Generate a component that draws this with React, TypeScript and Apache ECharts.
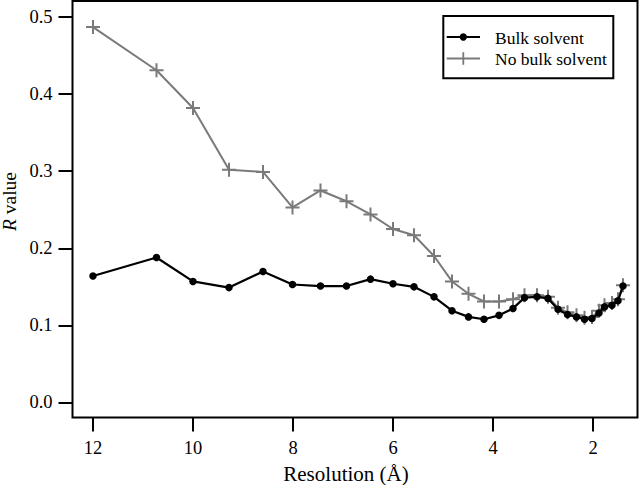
import React, { useEffect, useRef } from "react";
import * as echarts from "echarts";

const resolution = [12.0, 10.73, 10.0, 9.28, 8.6, 8.01, 7.45, 6.93, 6.45, 6.0, 5.58, 5.18, 4.82, 4.49, 4.18, 3.88, 3.6, 3.37, 3.12, 2.9, 2.7, 2.51, 2.33, 2.17, 2.02, 1.88, 1.77, 1.62, 1.5, 1.4];
const bulkSolvent = [0.164, 0.188, 0.157, 0.149, 0.17, 0.153, 0.151, 0.151, 0.16, 0.154, 0.15, 0.137, 0.119, 0.111, 0.108, 0.113, 0.122, 0.136, 0.137, 0.135, 0.121, 0.114, 0.111, 0.108, 0.109, 0.116, 0.124, 0.126, 0.132, 0.151];
const noBulkSolvent = [0.487, 0.431, 0.382, 0.302, 0.299, 0.253, 0.275, 0.261, 0.244, 0.225, 0.217, 0.19, 0.157, 0.141, 0.131, 0.131, 0.134, 0.139, 0.139, 0.137, 0.123, 0.117, 0.113, 0.11, 0.111, 0.119, 0.126, 0.129, 0.134, 0.152];
const xTicks = [12, 10, 8, 6, 4, 2];
const yTicks = [0, 0.1, 0.2, 0.3, 0.4, 0.5];
const seriesNames = ["Bulk solvent", "No bulk solvent"];
const xTitle = "Resolution (Å)";

const FONT = "'Liberation Serif', 'Times New Roman', serif";
const GRAY = "#7a7a7a";
const PLUS = "path://M0,7L14,7M7,0L7,14";

export default function App() {
  const ref = useRef<HTMLDivElement>(null);
  useEffect(() => {
    if (!ref.current) return;
    const chart = echarts.init(ref.current, null, { renderer: "svg" });
    const zip = (ys: number[]) => resolution.map((x, i) => [x, ys[i]]);
    chart.setOption({
      animation: false,
      backgroundColor: "#fff",
      grid: {
        left: 72.5,
        right: 2.5,
        top: 1,
        bottom: 67.5,
        show: true,
        borderColor: "#000",
        borderWidth: 2,
        backgroundColor: "transparent",
      },
      xAxis: {
        type: "value",
        inverse: true,
        min: 1.11,
        max: 12.41,
        axisLine: { show: false, onZero: false },
        splitLine: { show: false },
        axisTick: {
          show: true,
          inside: false,
          length: 14,
          lineStyle: { color: "#000", width: 2 },
          customValues: xTicks,
        },
        axisLabel: {
          customValues: xTicks,
          margin: 21,
          color: "#000",
          fontFamily: FONT,
          fontSize: 18.5,
          formatter: (v: number) => String(v),
        },
      },
      yAxis: {
        type: "value",
        min: -0.0195,
        max: 0.5208,
        axisLine: { show: false, onZero: false },
        splitLine: { show: false },
        axisTick: {
          show: true,
          inside: false,
          length: 14,
          lineStyle: { color: "#000", width: 2 },
          customValues: yTicks,
        },
        axisLabel: {
          customValues: yTicks,
          margin: 20,
          color: "#000",
          fontFamily: FONT,
          fontSize: 18.5,
          formatter: (v: number) => v.toFixed(1),
        },
      },
      series: [
        {
          name: seriesNames[1],
          type: "line",
          data: zip(noBulkSolvent),
          symbol: PLUS,
          symbolSize: 14,
          showAllSymbol: true,
          lineStyle: { color: GRAY, width: 2 },
          itemStyle: { color: GRAY, borderColor: GRAY, borderWidth: 2 },
          z: 2,
        },
        {
          name: seriesNames[0],
          type: "line",
          data: zip(bulkSolvent),
          symbol: "circle",
          symbolSize: 7.5,
          showAllSymbol: true,
          lineStyle: { color: "#000", width: 2.2 },
          itemStyle: { color: "#000", borderWidth: 0 },
          z: 3,
        },
      ],
      graphic: [
        {
          type: "text",
          x: 346,
          y: 473.5,
          style: {
            text: xTitle,
            fontFamily: FONT,
            fontSize: 21,
            fill: "#000",
            align: "center",
            verticalAlign: "middle",
          },
        },
        {
          type: "text",
          x: 9,
          y: 201.5,
          rotation: Math.PI / 2,
          style: {
            text: "{i|R} value",
            fontFamily: FONT,
            fontSize: 19.5,
            fill: "#000",
            align: "center",
            verticalAlign: "middle",
            rich: {
              i: { fontFamily: FONT, fontSize: 19.5, fontStyle: "italic", fill: "#000" },
            },
          },
        },
        {
          type: "group",
          z: 100,
          children: [
            {
              type: "rect",
              shape: { x: 443.3, y: 16, width: 170, height: 62.3 },
              style: { fill: "#fff", stroke: "#000", lineWidth: 2 },
            },
            {
              type: "line",
              shape: { x1: 446.7, y1: 37, x2: 480, y2: 37 },
              style: { stroke: "#000", lineWidth: 2.2 },
            },
            {
              type: "circle",
              shape: { cx: 463.3, cy: 37, r: 3.7 },
              style: { fill: "#000" },
            },
            {
              type: "text",
              x: 495,
              y: 38,
              style: {
                text: seriesNames[0],
                fontFamily: FONT,
                fontSize: 17.5,
                fill: "#000",
                align: "left",
                verticalAlign: "middle",
              },
            },
            {
              type: "line",
              shape: { x1: 446.7, y1: 58.5, x2: 480, y2: 58.5 },
              style: { stroke: GRAY, lineWidth: 2 },
            },
            {
              type: "line",
              shape: { x1: 463.3, y1: 52.2, x2: 463.3, y2: 64.8 },
              style: { stroke: GRAY, lineWidth: 1.8 },
            },
            {
              type: "text",
              x: 495,
              y: 58.5,
              style: {
                text: seriesNames[1],
                fontFamily: FONT,
                fontSize: 17.5,
                fill: "#000",
                align: "left",
                verticalAlign: "middle",
              },
            },
          ],
        },
      ],
    });
    return () => chart.dispose();
  }, []);
  return (
    <div
      ref={ref}
      style={{ position: "fixed", left: 0, top: 0, width: 640, height: 485, background: "#fff" }}
    />
  );
}
